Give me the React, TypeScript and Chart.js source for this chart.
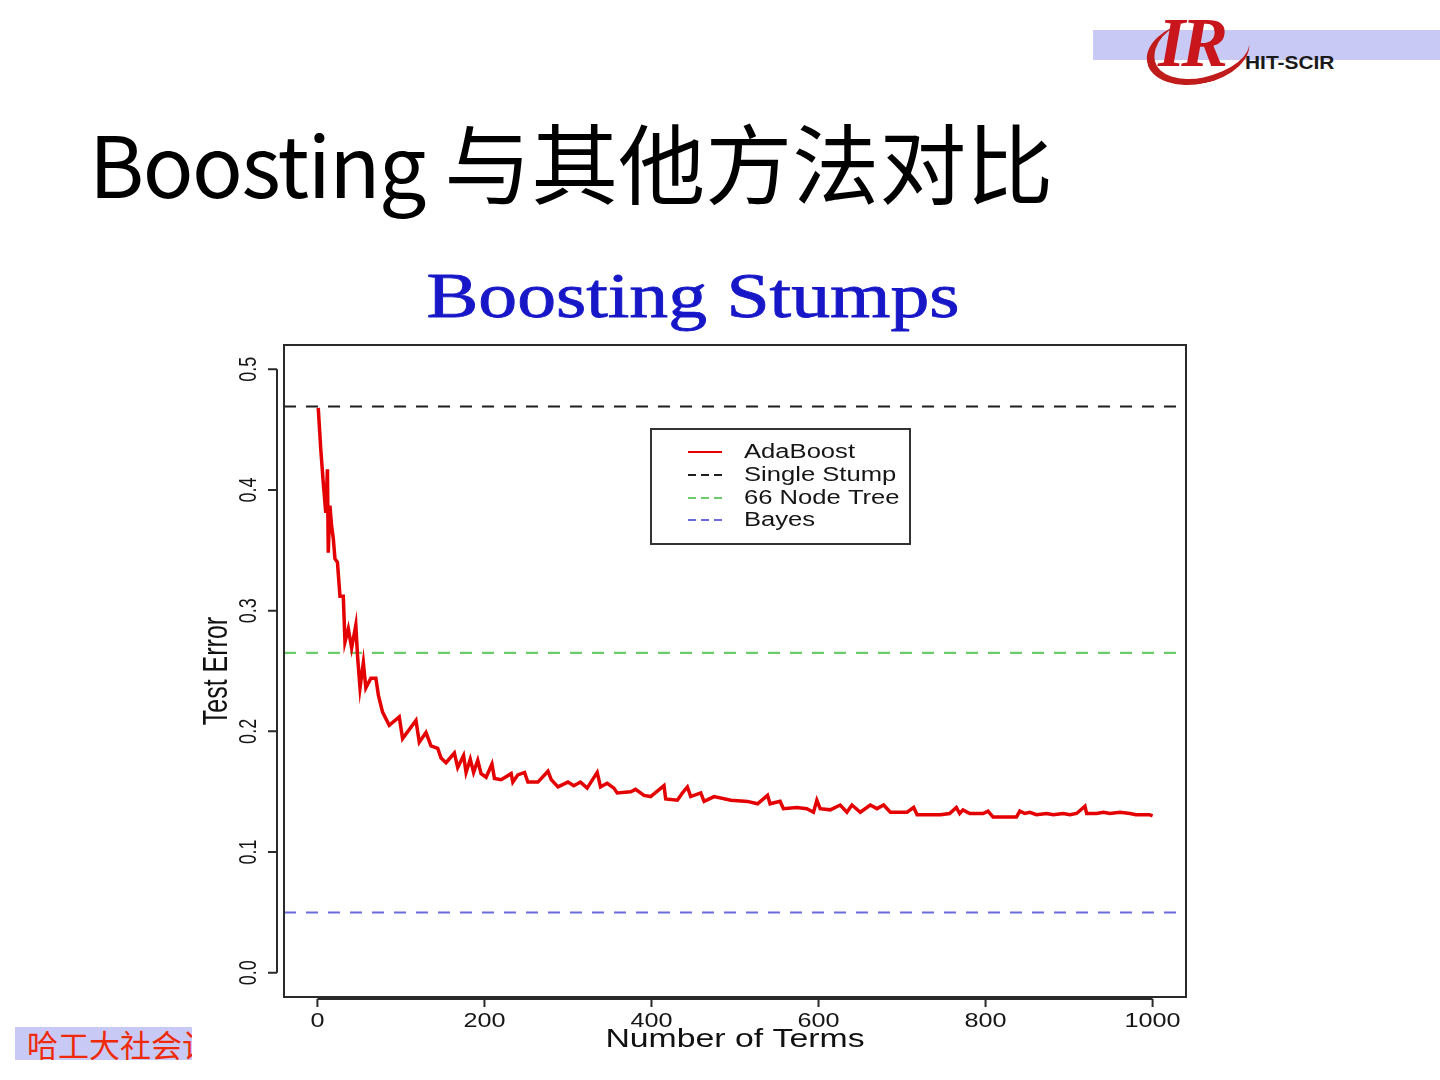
import React, { useEffect, useRef } from "react";
import { Chart, registerables } from "chart.js";

Chart.register(...registerables);

// ---- Data ----
const adaTerms = [
  1, 4, 7, 10, 12, 13, 15, 17, 19, 21, 24, 27, 31, 33, 37, 41, 46, 48, 51, 55,
  58, 64, 70, 73, 78, 86, 98, 102, 118, 122, 130, 136, 144, 148, 154, 164, 168,
  175, 178, 183, 187, 192, 196, 202, 209, 212, 220, 232, 234, 240, 248, 252,
  264, 276, 280, 288, 300, 307, 315, 323, 335, 339, 347, 355, 359, 375, 381,
  391, 399, 415, 417, 431, 437, 443, 447, 459, 463, 475, 495, 515, 527, 539,
  542, 554, 558, 574, 586, 594, 598, 602, 614, 626, 634, 640, 650, 662, 670,
  678, 686, 706, 714, 718, 746, 757, 765, 769, 773, 781, 797, 803, 809, 837,
  841, 847, 853, 861, 873, 881, 893, 901, 909, 919, 921, 933, 941, 949, 961,
  973, 980, 996, 1000,
];
const adaError = [
  0.468, 0.434, 0.406, 0.381, 0.417, 0.348, 0.387, 0.37, 0.36, 0.343, 0.34,
  0.312, 0.312, 0.274, 0.285, 0.269, 0.288, 0.263, 0.236, 0.257, 0.236, 0.244,
  0.244, 0.23, 0.216, 0.205, 0.212, 0.194, 0.209, 0.191, 0.199, 0.188, 0.186,
  0.178, 0.174, 0.182, 0.17, 0.18, 0.166, 0.177, 0.166, 0.176, 0.165, 0.162,
  0.173, 0.161, 0.16, 0.165, 0.158, 0.164, 0.166, 0.158, 0.158, 0.167, 0.16,
  0.154, 0.158, 0.155, 0.158, 0.153, 0.166, 0.154, 0.157, 0.153, 0.149, 0.15,
  0.152, 0.147, 0.146, 0.155, 0.144, 0.143, 0.149, 0.154, 0.146, 0.149, 0.142,
  0.146, 0.143, 0.142, 0.14, 0.147, 0.14, 0.142, 0.136, 0.137, 0.136, 0.133,
  0.143, 0.136, 0.135, 0.139, 0.133, 0.139, 0.133, 0.139, 0.136, 0.139, 0.133,
  0.133, 0.137, 0.131, 0.131, 0.132, 0.137, 0.132, 0.135, 0.132, 0.132, 0.134,
  0.129, 0.129, 0.134, 0.132, 0.133, 0.131, 0.132, 0.131, 0.132, 0.131, 0.132,
  0.138, 0.132, 0.132, 0.133, 0.132, 0.133, 0.132, 0.131, 0.131, 0.13,
];
const singleStumpError = 0.469;
const nodeTreeError = 0.265;
const bayesError = 0.05;

const seriesLabels = ["AdaBoost", "Single Stump", "66 Node Tree", "Bayes"];
const seriesColors = ["#e40000", "#1e1e1e", "#6ccc6c", "#6a6ade"];

const xTickValues = [0, 200, 400, 600, 800, 1000];
const xTickLabels = ["0", "200", "400", "600", "800", "1000"];
const yTickValues = [0, 0.1, 0.2, 0.3, 0.4, 0.5];
const yTickLabels = ["0.0", "0.1", "0.2", "0.3", "0.4", "0.5"];

const chartTitle = "Boosting Stumps";
const xAxisTitle = "Number of Terms";
const yAxisTitle = "Test Error";

const SANS = "'Liberation Sans', Arial, sans-serif";

function drawText(
  ctx: CanvasRenderingContext2D,
  text: string,
  x: number,
  y: number,
  font: string,
  color: string,
  sx: number,
  align: CanvasTextAlign,
  rotate = false
) {
  ctx.save();
  ctx.translate(x, y);
  ctx.scale(sx, 1);
  if (rotate) ctx.rotate(-Math.PI / 2);
  ctx.font = font;
  ctx.fillStyle = color;
  ctx.textAlign = align;
  ctx.textBaseline = "middle";
  ctx.fillText(text, 0, 0);
  ctx.restore();
}

const rStylePlugin = {
  id: "rStyle",
  afterDatasetsDraw(chart: any) {
    const ctx: CanvasRenderingContext2D = chart.ctx;
    const a = chart.chartArea;
    const xs = chart.scales.x;
    const ys = chart.scales.y;
    ctx.save();
    ctx.setLineDash([]);
    // plot box
    ctx.strokeStyle = "#2a2a2a";
    ctx.lineWidth = 2;
    ctx.strokeRect(a.left, a.top, a.right - a.left, a.bottom - a.top);

    // x axis
    const axY = a.bottom + 2;
    ctx.beginPath();
    ctx.moveTo(xs.getPixelForValue(xTickValues[0]), axY);
    ctx.lineTo(xs.getPixelForValue(xTickValues[xTickValues.length - 1]), axY);
    xTickValues.forEach((v) => {
      const px = xs.getPixelForValue(v);
      ctx.moveTo(px, axY);
      ctx.lineTo(px, axY + 8);
    });
    ctx.stroke();
    xTickValues.forEach((v, i) => {
      drawText(ctx, xTickLabels[i], xs.getPixelForValue(v), axY + 22, `21px ${SANS}`, "#151515", 1.2, "center");
    });
    drawText(ctx, xAxisTitle, (a.left + a.right) / 2, axY + 41, `26px ${SANS}`, "#111", 1.3, "center");

    // y axis
    const axX = a.left - 7;
    ctx.beginPath();
    ctx.moveTo(axX, ys.getPixelForValue(yTickValues[0]));
    ctx.lineTo(axX, ys.getPixelForValue(yTickValues[yTickValues.length - 1]));
    yTickValues.forEach((v) => {
      const py = ys.getPixelForValue(v);
      ctx.moveTo(axX, py);
      ctx.lineTo(axX - 9, py);
    });
    ctx.stroke();
    yTickValues.forEach((v, i) => {
      drawText(ctx, yTickLabels[i], axX - 27, ys.getPixelForValue(v), `18px ${SANS}`, "#151515", 1.3, "center", true);
    });
    drawText(ctx, yAxisTitle, axX - 60, (a.top + a.bottom) / 2, `25px ${SANS}`, "#111", 1.4, "center", true);

    // title (stretched serif)
    ctx.save();
    ctx.font = "64px 'Liberation Serif', 'Times New Roman', serif";
    const tw = ctx.measureText(chartTitle).width;
    const tsx = 533 / tw;
    ctx.translate(693, 317);
    ctx.scale(tsx, 1);
    ctx.fillStyle = "#1717c8";
    ctx.strokeStyle = "#1717c8";
    ctx.lineWidth = 0.8;
    ctx.textAlign = "center";
    ctx.textBaseline = "alphabetic";
    ctx.fillText(chartTitle, 0, 0);
    ctx.strokeText(chartTitle, 0, 0);
    ctx.restore();

    // legend
    const lx = 651, ly = 429, lw = 259, lh = 115;
    ctx.fillStyle = "#ffffff";
    ctx.fillRect(lx, ly, lw, lh);
    ctx.strokeStyle = "#333";
    ctx.lineWidth = 2;
    ctx.strokeRect(lx, ly, lw, lh);
    const rows = [452, 475, 498, 520];
    seriesLabels.forEach((lab, i) => {
      ctx.beginPath();
      ctx.strokeStyle = seriesColors[i];
      ctx.lineWidth = 2;
      ctx.setLineDash(i === 0 ? [] : [8, 5]);
      ctx.moveTo(688, rows[i]);
      ctx.lineTo(722, rows[i]);
      ctx.stroke();
      ctx.setLineDash([]);
      drawText(ctx, lab, 744, rows[i], `20px ${SANS}`, "#151515", 1.28, "left");
    });
    ctx.restore();
  },
};

function ChartCanvas() {
  const ref = useRef<HTMLCanvasElement | null>(null);
  useEffect(() => {
    if (!ref.current) return;
    const flat = (v: number) => [
      { x: -40, y: v },
      { x: 1040, y: v },
    ];
    const chart = new Chart(ref.current, {
      type: "line",
      data: {
        datasets: [
          {
            label: seriesLabels[0],
            data: adaTerms.map((t, i) => ({ x: t, y: adaError[i] })),
            borderColor: seriesColors[0],
            borderWidth: 3.5,
            pointRadius: 0,
            tension: 0,
          },
          {
            label: seriesLabels[1],
            data: flat(singleStumpError),
            borderColor: seriesColors[1],
            borderWidth: 2,
            borderDash: [12, 10],
            pointRadius: 0,
          },
          {
            label: seriesLabels[2],
            data: flat(nodeTreeError),
            borderColor: seriesColors[2],
            borderWidth: 2.2,
            borderDash: [12, 10],
            pointRadius: 0,
          },
          {
            label: seriesLabels[3],
            data: flat(bayesError),
            borderColor: seriesColors[3],
            borderWidth: 2.2,
            borderDash: [12, 10],
            pointRadius: 0,
          },
        ],
      },
      options: {
        responsive: false,
        animation: false,
        devicePixelRatio: 1,
        layout: { padding: { left: 284, right: 254, top: 345, bottom: 83 } },
        plugins: {
          legend: { display: false },
          title: { display: false },
          tooltip: { enabled: false },
        },
        scales: {
          x: { type: "linear", min: -40, max: 1040, display: false },
          y: { type: "linear", min: -0.02, max: 0.52, display: false },
        },
      },
      plugins: [rStylePlugin],
    });
    return () => chart.destroy();
  }, []);
  return (
    <canvas
      ref={ref}
      width={1440}
      height={1080}
      style={{ position: "absolute", left: 0, top: 0, width: 1440, height: 1080 }}
    />
  );
}

export default function App() {
  return (
    <div
      style={{
        position: "fixed",
        left: 0,
        top: 0,
        width: 1440,
        height: 1080,
        background: "#ffffff",
        overflow: "hidden",
      }}
    >
      {/* logo band */}
      <div style={{ position: "absolute", left: 1093, top: 30, width: 347, height: 30, background: "#c9c9f5" }} />
      <div
        style={{
          position: "absolute",
          left: 1146,
          top: 20,
          width: 96,
          height: 58,
          borderRadius: "50%",
          borderLeft: "8px solid #c01c1c",
          borderBottom: "6px solid #c01c1c",
          borderTop: "0px solid transparent",
          borderRight: "0px solid transparent",
          transform: "rotate(-12deg)",
        }}
      />
      <div
        style={{
          position: "absolute",
          left: 1158,
          top: 8,
          fontFamily: "'Liberation Serif', serif",
          fontWeight: 700,
          fontStyle: "italic",
          fontSize: 70,
          lineHeight: "70px",
          color: "#c8161c",
          letterSpacing: -4,
        }}
      >
        IR
      </div>
      <div
        style={{
          position: "absolute",
          left: 1245,
          top: 53,
          fontFamily: "'Liberation Sans', Arial, sans-serif",
          fontWeight: 900,
          fontSize: 19,
          lineHeight: "20px",
          color: "#1a1a1a",
          transform: "scaleX(1.1)",
          transformOrigin: "left",
        }}
      >
        HIT-SCIR
      </div>

      {/* slide title */}
      <div
        style={{
          position: "absolute",
          left: 89,
          top: 116,
          fontFamily: "'Noto Sans CJK SC', 'Noto Sans', sans-serif",
          fontSize: 87,
          lineHeight: "88px",
          color: "#000000",
          whiteSpace: "nowrap",
        }}
      >
        <span style={{ fontSize: 84, letterSpacing: -1.5 }}>Boosting</span> 与其他方法对比
      </div>

      <ChartCanvas />

      {/* footer */}
      <div
        style={{
          position: "absolute",
          left: 15,
          top: 1027,
          width: 177,
          height: 33,
          background: "#c9c9f5",
          overflow: "hidden",
          whiteSpace: "nowrap",
        }}
      >
        <span
          style={{
            position: "absolute",
            left: 12,
            top: 0,
            fontFamily: "'Noto Sans CJK SC', sans-serif",
            fontSize: 31,
            lineHeight: "33px",
            color: "#ee2a0a",
          }}
        >
          哈工大社会计算与信息检索研究中心
        </span>
      </div>
    </div>
  );
}
